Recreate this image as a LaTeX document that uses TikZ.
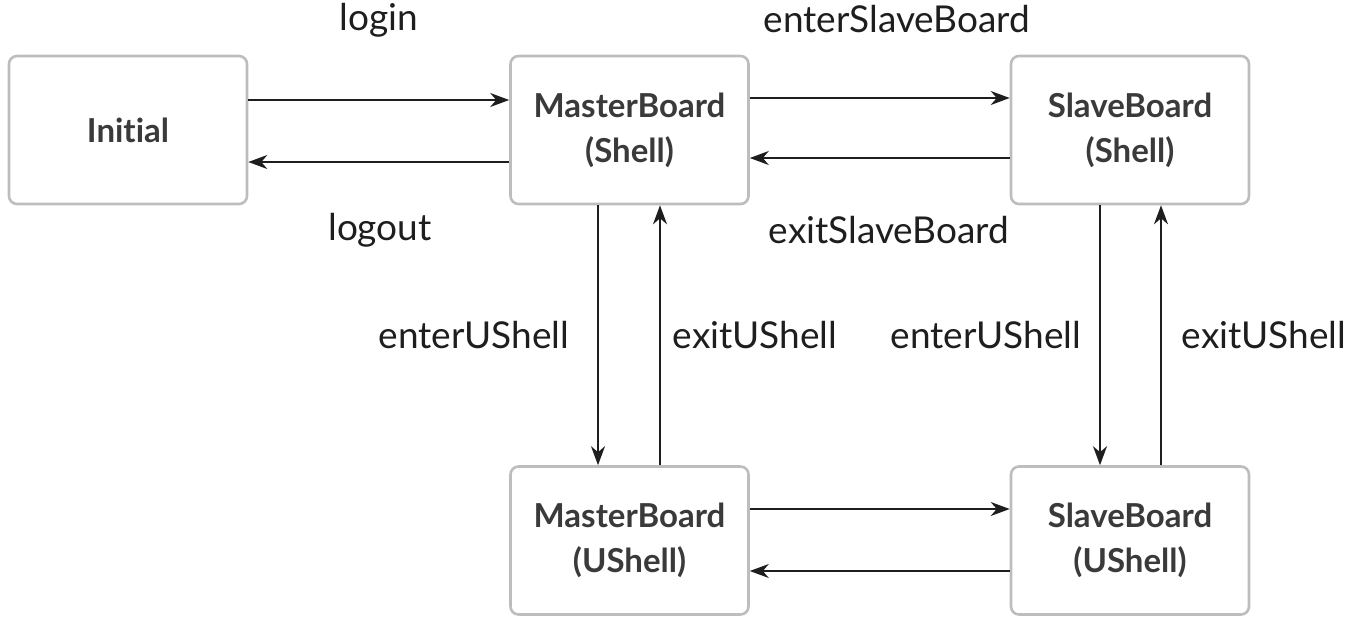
\documentclass[tikz,border=0pt]{standalone}
\usepackage{fontspec}
\setmainfont[Ligatures=NoCommon]{Lato}
\usetikzlibrary{arrows.meta}
\definecolor{boxline}{HTML}{BDBDBD}
\definecolor{boxtext}{HTML}{3A3A3A}
\definecolor{arr}{HTML}{1E1E1E}
\tikzset{
  state/.style={draw=boxline, line width=2.6pt, rounded corners=8pt, fill=white,
    minimum width=238pt, minimum height=148pt, align=center, inner sep=0pt,
    text=boxtext, font=\fontsize{33}{45}\selectfont\bfseries},
  lbl/.style={text=arr, font=\fontsize{37}{40}\selectfont, inner sep=0pt},
  tr/.style={draw=arr, line width=1.8pt, -{Stealth[length=19pt,width=14pt,inset=6pt]}}
}
\begin{document}
\begin{tikzpicture}[x=1pt,y=-1pt]
\useasboundingbox (0,0) rectangle (1351,632);
\node[state] (ini) at (128,130) {Initial};
\node[state] (ms) at (629.5,130) {MasterBoard\\(Shell)};
\node[state] (ss) at (1130,130) {SlaveBoard\\(Shell)};
\node[state] (mu) at (629.5,540.5) {MasterBoard\\(UShell)};
\node[state] (su) at (1130,540.5) {SlaveBoard\\(UShell)};

\draw[tr] (ini.east |- 0,100) -- (ms.west |- 0,100);
\draw[tr] (ms.west |- 0,162) -- (ini.east |- 0,162);
\draw[tr] (ms.east |- 0,98) -- (ss.west |- 0,98);
\draw[tr] (ss.west |- 0,158) -- (ms.east |- 0,158);
\draw[tr] (ms.south -| 598,0) -- (mu.north -| 598,0);
\draw[tr] (mu.north -| 660,0) -- (ms.south -| 660,0);
\draw[tr] (ss.south -| 1100,0) -- (su.north -| 1100,0);
\draw[tr] (su.north -| 1161,0) -- (ss.south -| 1161,0);
\draw[tr] (mu.east |- 0,509) -- (su.west |- 0,509);
\draw[tr] (su.west |- 0,571) -- (mu.east |- 0,571);

\node[lbl] (l1) at (379,20) {login};
\node[lbl] (l2) at (380,230) {logout};
\node[lbl] (l3) at (897,19) {enterSlaveBoard};
\node[lbl] (l4) at (889,230) {exitSlaveBoard};
\node[lbl] (l5) at (474,335) {enterUShell};
\node[lbl] (l6) at (755,335) {exitUShell};
\node[lbl] (l7) at (986,335) {enterUShell};
\node[lbl] (l8) at (1264,335) {exitUShell};
\end{tikzpicture}
\end{document}
